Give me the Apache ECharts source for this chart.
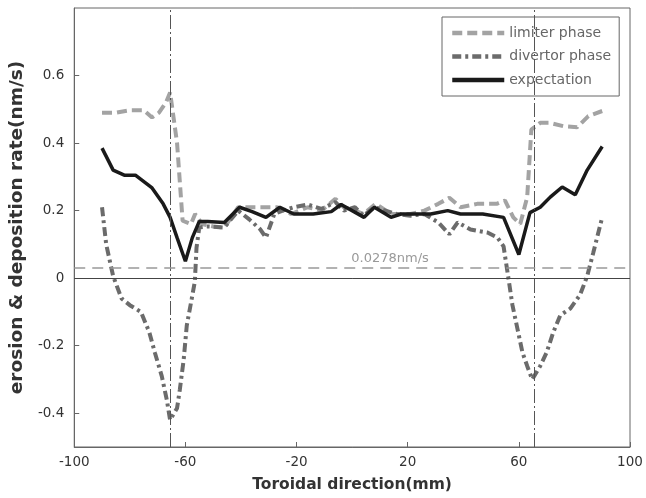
<!DOCTYPE html>
<html><head><meta charset="utf-8">
<script src="https://cdn.jsdelivr.net/npm/echarts@6/dist/echarts.min.js"></script>
<style>html,body{margin:0;padding:0;background:#fff}#c{width:646px;height:498px}</style>
</head><body><div id="c"></div>
<script>
// ---- data ----
const xTicks = [-100, -60, -20, 20, 60, 100];
const yTicks = [-0.4, -0.2, 0, 0.2, 0.4, 0.6];
const seriesNames = ['limiter phase', 'divertor phase', 'expectation'];

const limiterX = [-90,-85,-80,-75,-72,-69.5,-67,-65.5,-63,-61,-58,-56.5,-54,-50,-46,-41,-36,-32,-27,-22,-16,-11,-6,-3,1,4,8.5,14,21,26,31,35,39,45,52,55,58,60.5,63,64.5,67.7,71,76,81,85,90];
const limiterY = [0.49,0.49,0.497,0.497,0.476,0.49,0.52,0.55,0.40,0.17,0.16,0.19,0.16,0.153,0.15,0.21,0.21,0.21,0.21,0.19,0.21,0.20,0.235,0.21,0.20,0.19,0.22,0.19,0.19,0.20,0.22,0.238,0.21,0.22,0.22,0.23,0.18,0.16,0.24,0.44,0.46,0.46,0.45,0.447,0.48,0.495];

const divertorX = [-90,-88.5,-86,-83,-80,-76,-73,-71,-68.5,-66.7,-65.5,-63,-62,-60.6,-59.5,-57.7,-56.6,-56,-55,-52,-46,-41,-37,-33,-31,-28,-25,-21,-16,-11,-6,-3,1,4,8,12,16,21,26,31,35,38,42.6,48.7,52.3,54.5,56.3,57.7,59.5,61.3,63,64.8,67.7,70,72.4,74.9,78.5,82,84.6,86.8,90];
const divertorY = [0.21,0.10,0.006,-0.06,-0.08,-0.10,-0.16,-0.22,-0.29,-0.36,-0.42,-0.385,-0.33,-0.24,-0.14,-0.06,-0.01,0.09,0.15,0.153,0.15,0.20,0.174,0.144,0.12,0.19,0.20,0.21,0.218,0.205,0.225,0.20,0.21,0.185,0.21,0.20,0.19,0.185,0.19,0.165,0.13,0.165,0.144,0.135,0.12,0.094,-0.003,-0.08,-0.15,-0.22,-0.26,-0.30,-0.26,-0.22,-0.16,-0.11,-0.09,-0.05,0.006,0.076,0.18];

const expectX = [-90,-86,-82,-78,-74,-72,-68,-65.5,-63,-60,-57.5,-55,-52,-46,-40.5,-36,-31,-26,-21,-14,-7.5,-4,0,4.3,8,14,17.6,24.7,28.3,34.4,39,47,54.5,60,64,67.7,71.3,75.6,80.3,84.6,90];
const expectY = [0.385,0.32,0.305,0.305,0.28,0.267,0.22,0.18,0.12,0.05,0.12,0.168,0.168,0.165,0.21,0.197,0.18,0.21,0.19,0.19,0.197,0.218,0.2,0.18,0.21,0.18,0.19,0.19,0.19,0.2,0.19,0.19,0.18,0.07,0.194,0.21,0.24,0.27,0.247,0.32,0.39];

const vLines = [-65.5, 65.5];
const refLevel = 0.0278;
const refLabel = '0.0278nm/s';
const xName = 'Toroidal direction(mm)';
const yName = 'erosion & deposition rate(nm/s)';

const pair = (xs, ys) => xs.map((x, i) => [x, ys[i]]);
const FONT = 'DejaVu Sans';

const chart = echarts.init(document.getElementById('c'), null, {renderer: 'canvas'});
chart.setOption({
  animation: false,
  backgroundColor: '#fff',
  textStyle: {fontFamily: FONT},
  grid: {left: 72, right: 16, top: 8, bottom: 50, show: true, borderColor: '#666', borderWidth: 1, containLabel: false},
  xAxis: {
    type: 'value', min: -100, max: 100,
    name: xName, nameLocation: 'middle', nameGap: 30,
    nameTextStyle: {fontSize: 15.5, fontWeight: 'bold', color: '#333', fontFamily: FONT},
    axisLine: {show: true, onZero: false, lineStyle: {color: '#666', width: 1}},
    axisTick: {show: true, inside: true, length: 5, customValues: xTicks, lineStyle: {color: '#666'}},
    axisLabel: {customValues: xTicks, color: '#333', fontSize: 13.5, margin: 8, fontFamily: FONT},
    splitLine: {show: false}
  },
  yAxis: {
    type: 'value', min: -0.5, max: 0.8,
    name: yName, nameLocation: 'middle', nameGap: 47,
    nameTextStyle: {fontSize: 18.5, fontWeight: 'bold', color: '#333', fontFamily: FONT},
    axisLine: {show: true, onZero: false, lineStyle: {color: '#666', width: 1}},
    axisTick: {show: true, inside: true, length: 5, customValues: yTicks, lineStyle: {color: '#666'}},
    axisLabel: {customValues: yTicks, color: '#333', fontSize: 13.5, margin: 10, fontFamily: FONT,
      formatter: v => (Math.abs(v) < 1e-9 ? '0' : v.toFixed(1))},
    splitLine: {show: false}
  },
  legend: {
    orient: 'vertical', left: 442, top: 17,
    data: seriesNames,
    backgroundColor: '#fff', borderColor: '#666', borderWidth: 1, borderRadius: 0,
    padding: [9, 8, 9, 8], itemGap: 9.5, itemWidth: 52, itemHeight: 14,
    itemStyle: {opacity: 0},
    lineStyle: {width: 4.5},
    textStyle: {fontSize: 14, color: '#666', fontFamily: FONT}
  },
  series: [
    {
      type: 'line', name: '_refs', data: [], silent: true, z: 1,
      markLine: {
        silent: true, symbol: 'none', animation: false,
        data: [
          {xAxis: vLines[0], lineStyle: {color: '#555', width: 1, type: [14, 3, 2, 3]}, label: {show: false}},
          {xAxis: vLines[1], lineStyle: {color: '#555', width: 1, type: [14, 3, 2, 3]}, label: {show: false}},
          {yAxis: 0, lineStyle: {color: '#444', width: 1, type: 'solid'}, label: {show: false}},
          {yAxis: refLevel, lineStyle: {color: '#999', width: 1.5, type: [11, 7]},
            label: {show: true, formatter: refLabel, position: 'insideMiddleTop', offset: [38, 2], color: '#999', fontSize: 13, fontFamily: FONT}}
        ]
      }
    },
    {
      type: 'line', name: seriesNames[0], data: pair(limiterX, limiterY), symbol: 'none', z: 2,
      lineStyle: {color: '#a3a3a3', width: 4, type: [10, 5]}, itemStyle: {color: '#a3a3a3'}
    },
    {
      type: 'line', name: seriesNames[1], data: pair(divertorX, divertorY), symbol: 'none', z: 3,
      lineStyle: {color: '#6b6b6b', width: 4, type: [9, 4, 3, 4]}, itemStyle: {color: '#6b6b6b'}
    },
    {
      type: 'line', name: seriesNames[2], data: pair(expectX, expectY), symbol: 'none', z: 4,
      lineStyle: {color: '#1a1a1a', width: 3.5, type: 'solid'}, itemStyle: {color: '#1a1a1a'}
    }
  ]
});
</script>
</body></html>
